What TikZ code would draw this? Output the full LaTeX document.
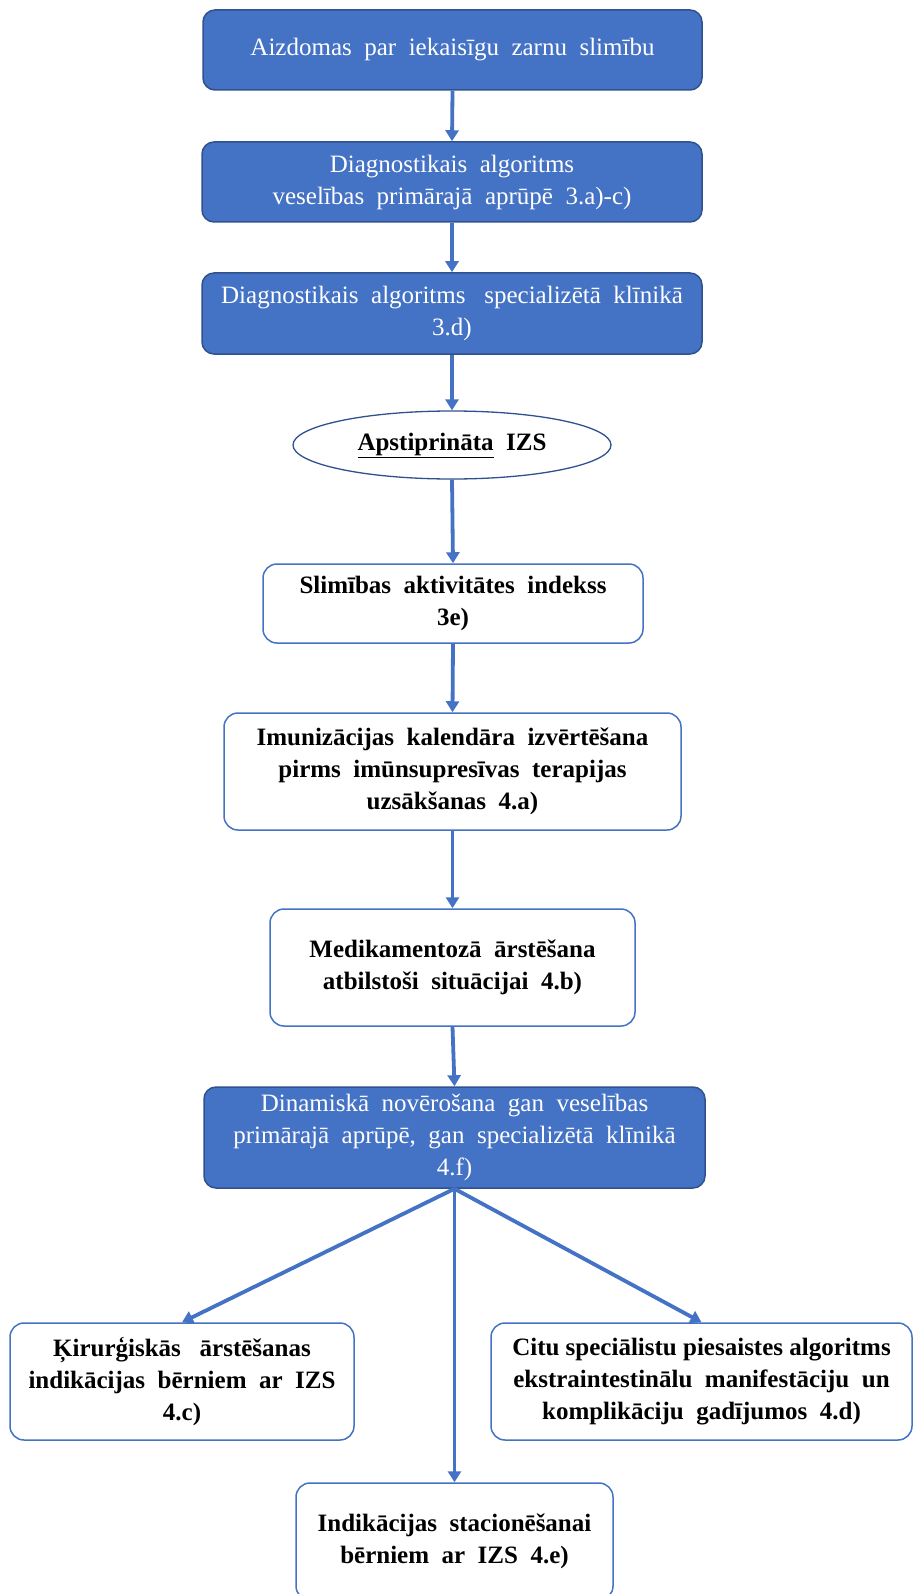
\documentclass[tikz,border=0pt]{standalone}
\usepackage{fontspec}
\setmainfont{Liberation Serif}
\usetikzlibrary{arrows.meta,shapes.geometric}
\definecolor{offblue}{HTML}{4472C4}
\definecolor{offdark}{HTML}{2F528F}
\begin{document}
\begin{tikzpicture}[x=1pt,y=-1pt,
  font=\fontsize{25}{32}\selectfont,
  bluebox/.style={rectangle, rounded corners=12pt, fill=offblue, draw=offdark,
    line width=1.5pt, text=white, align=center, inner sep=2pt},
  whitebox/.style={rectangle, rounded corners=14pt, fill=white, draw=offblue,
    line width=1.5pt, text=black, align=center, inner sep=2pt,
    font=\fontsize{25}{32}\selectfont\bfseries},
  ovalbox/.style={ellipse, fill=white, draw=offdark, line width=1.3pt,
    inner sep=0pt, font=\fontsize{25}{32}\selectfont\bfseries},
  arr/.style={draw=offblue, line width=3.8pt,
    -{Triangle[width=13pt,length=11pt]}},
  ]
  %%% page frame %%%
  \useasboundingbox (0,0) rectangle (913,1594);
  \clip (0,0) rectangle (913,1594);

  %%% diagnostic stages %%%
  \node[bluebox, minimum width=499pt, minimum height=80pt] (aizd) at (452.5,50)
    {Aizdomas\ \ par\ \ iekaisīgu\ \ zarnu\ \ slimību};
  \node[bluebox, minimum width=500pt, minimum height=80pt] (diagpr) at (452,182)
    {Diagnostikais\ \ algoritms\\veselības\ \ primārajā\ \ aprūpē\ \ 3.a)-c)};
  \node[bluebox, minimum width=500pt, minimum height=81pt] (diagsp) at (452,313.5)
    {Diagnostikais\ \ algoritms\ \ \ specializētā\ \ klīnikā\\3.d)};
  \node[ovalbox, minimum width=318pt, minimum height=68pt] (izs) at (452,445)
    {\underline{Apstiprināta}\ \ IZS};

  %%% treatment stages %%%
  \node[whitebox, minimum width=380pt, minimum height=79pt] (sai) at (453,603.5)
    {Slimības\ \ aktivitātes\ \ indekss\\3e)};
  \node[whitebox, minimum width=457pt, minimum height=117pt] (imun) at (452.5,771.5)
    {Imunizācijas\ \ kalendāra\ \ izvērtēšana\\pirms\ \ imūnsupresīvas\ \ terapijas\\uzsākšanas\ \ 4.a)};
  \node[whitebox, minimum width=365pt, minimum height=117pt] (medik) at (452.5,967.5)
    {Medikamentozā\ \ ārstēšana\\atbilstoši\ \ situācijai\ \ 4.b)};
  \node[bluebox, minimum width=501pt, minimum height=101pt] (dinam) at (454.5,1137.5)
    {Dinamiskā\ \ novērošana\ \ gan\ \ veselības\\primārajā\ \ aprūpē,\ \ gan\ \ specializētā\ \ klīnikā\\4.f)};

  %%% follow-up branches %%%
  \node[whitebox, minimum width=344pt, minimum height=117pt] (kirurg) at (182,1381.5)
    {Ķirurģiskās\ \ \ ārstēšanas\\indikācijas\ \ bērniem\ \ ar\ \ IZS\\4.c)};
  \node[whitebox, minimum width=421pt, minimum height=117pt] (citu) at (701.5,1381.5)
    {Citu\ speciālistu\ piesaistes\ algoritms\\ekstraintestinālu\ \ manifestāciju\ \ un\\komplikāciju\ \ gadījumos\ \ 4.d)};
  \node[whitebox, minimum width=317pt, minimum height=117pt] (stac) at (454.5,1541.5)
    {Indikācijas\ \ stacionēšanai\\bērniem\ \ ar\ \ IZS\ \ 4.e)};

  %%% connectors %%%
  \draw[arr] (aizd.south) -- (diagpr.north);
  \draw[arr] (diagpr.south) -- (diagsp.north);
  \draw[arr] (diagsp.south) -- (izs.north);
  \draw[arr] (izs.south) -- (sai.north);
  \draw[arr] (sai.south) -- (imun.north);
  \draw[arr] (imun.south) -- (medik.north);
  \draw[arr] (medik.south) -- (dinam.north);
  \draw[arr] (dinam.south) -- (kirurg.north);
  \draw[arr] (dinam.south) -- (citu.north);
  \draw[arr] (dinam.south) -- (stac.north);
\end{tikzpicture}
\end{document}
